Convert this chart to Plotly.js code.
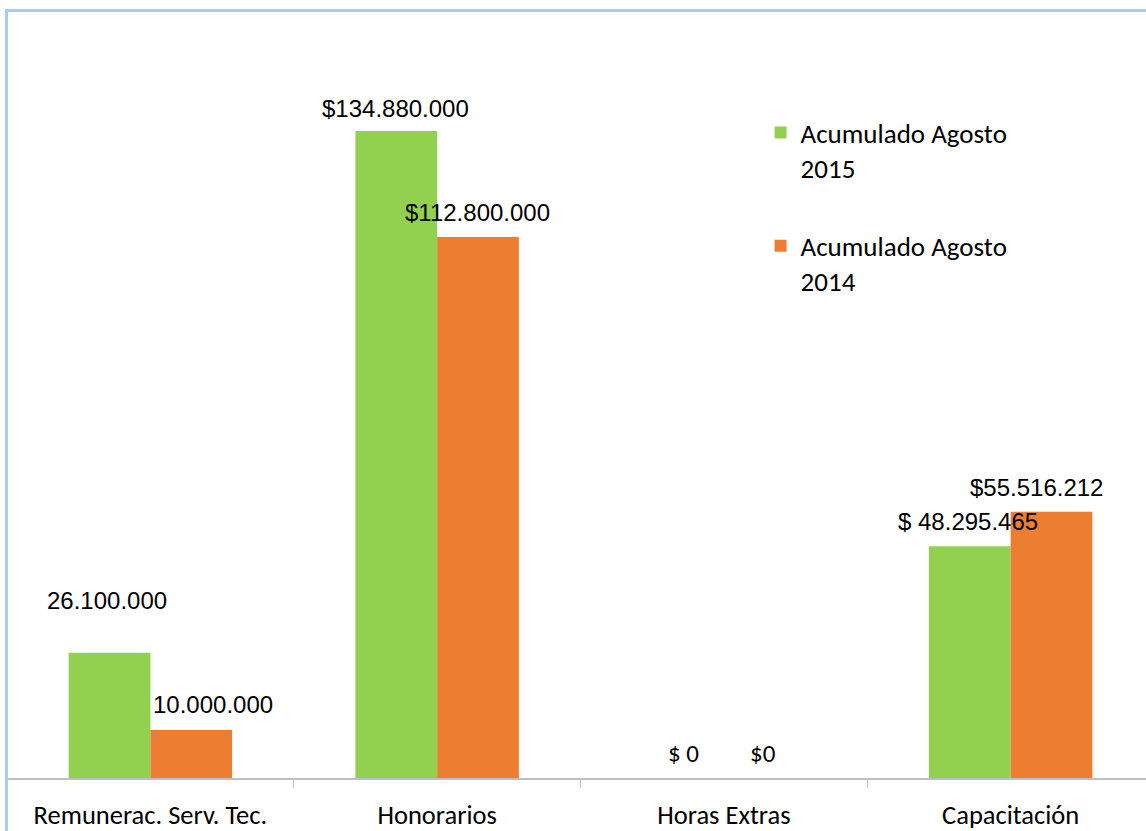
<!DOCTYPE html>
<html>
<head>
<meta charset="utf-8">
<script src="https://cdn.plot.ly/plotly-3.0.1.min.js"></script>
<style>
  html, body { margin: 0; padding: 0; overflow: hidden; background: #fff; }
  #frame { position: absolute; left: 5px; top: 9px; width: 1200px; height: 900px;
           border-left: 3px solid #A9CAF6; border-top: 3px solid #A9CAF6; pointer-events: none; }
  #chart { position: absolute; left: 0; top: 0; }
</style>
</head>
<body>
<div id="chart"></div>
<div id="frame"></div>
<script>
// ---------- data ----------
var categories = ['Remunerac. Serv. Tec.', 'Honorarios', 'Horas Extras', 'Capacitación'];
var seriesNames = ['Acumulado Agosto<br>2015', 'Acumulado Agosto<br>2014'];
var values2015 = [26100000, 134880000, 0, 48295465];
var values2014 = [10000000, 112800000, 0, 55516212];
var labels2015 = ['26.100.000', '$134.880.000', '$ 0', '$ 48.295.465'];
var labels2014 = ['10.000.000', '$112.800.000', '$0', '$55.516.212'];

// label placement (Excel had them dragged around by hand)
var shift2015 = [[-43, 52], [-42, 23], [-40, 25], [-43, 25]];
var shift2014 = [[63, 26], [40, 24], [39, 25], [26, 24]];
var calibriLabel = [false, false, true, false];

var green = '#92D050';
var orange = '#ED7D31';
var tickFont = 'Carlito, Lato, "Open Sans", sans-serif';
var labelFont = '"Liberation Sans", Arial, sans-serif';

var traces = [
    {
        x: categories, y: values2015, type: 'bar', name: seriesNames[0],
        legendgroup: 'a', marker: {color: green}, hoverinfo: 'none'
    },
    {
        x: categories, y: values2014, type: 'bar', name: seriesNames[1],
        legendgroup: 'b', marker: {color: orange}, hoverinfo: 'none'
    }
];

// data labels
var annotations = [];
function addLabels(vals, texts, shifts) {
    for (var i = 0; i < categories.length; i++) {
        annotations.push({
            x: categories[i], y: vals[i], xref: 'x', yref: 'y',
            text: texts[i], showarrow: false,
            xshift: shifts[i][0], yshift: shifts[i][1],
            font: {
                family: calibriLabel[i] ? tickFont : labelFont,
                size: calibriLabel[i] ? 25 : 24,
                color: '#000'
            }
        });
    }
}
addLabels(values2015, labels2015, shift2015);
addLabels(values2014, labels2014, shift2014);

var layout = {
    width: 1160,
    height: 831,
    margin: {l: 7, r: 6, t: 12, b: 53},
    paper_bgcolor: '#fff',
    plot_bgcolor: '#fff',
    barmode: 'group',
    bargap: 0.43,
    bargroupgap: 0,
    showlegend: true,
    legend: {
        x: 0.657, y: 0.874, xanchor: 'left', yanchor: 'top',
        valign: 'top',
        traceorder: 'grouped',
        tracegroupgap: 40,
        font: {family: tickFont, size: 27, color: '#000'},
        bgcolor: 'rgba(0,0,0,0)'
    },
    xaxis: {
        type: 'category',
        range: [-0.5, 3.5],
        showline: true, linecolor: '#BFBFBF', linewidth: 1.5,
        ticks: 'outside', tickson: 'boundaries', ticklen: 8, tickcolor: '#BFBFBF',
        ticklabelstandoff: 13,
        tickfont: {family: tickFont, size: 26.5, color: '#000'},
        showgrid: false, zeroline: false, fixedrange: true
    },
    yaxis: {
        range: [0, 159700000],
        visible: false, showgrid: false, zeroline: false, fixedrange: true
    },
    annotations: annotations
};

Plotly.newPlot('chart', traces, layout, {staticPlot: true, displayModeBar: false});
</script>
</body>
</html>
